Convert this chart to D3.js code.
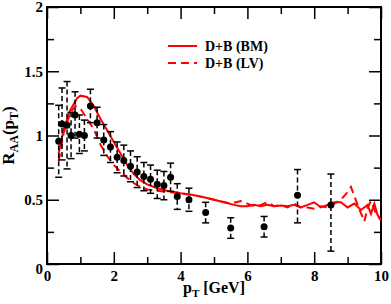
<!DOCTYPE html>
<html>
<head>
<meta charset="utf-8">
<script src="https://cdn.jsdelivr.net/npm/d3@7"></script>
<style>
  body { margin: 0; background: #fff; }
  text { font-family: "Liberation Serif", "Times New Roman", serif; font-weight: bold; }
</style>
</head>
<body>
<div id="wrapper"></div>
<script>
// data points (pT, RAA, error up, error down)
const dataPt   = [0.35, 0.45, 0.6, 0.72, 0.84, 0.97, 1.12, 1.3, 1.5, 1.7, 1.9, 2.1, 2.3, 2.5, 2.7, 2.9, 3.1, 3.3, 3.5, 3.7, 3.9, 4.25, 4.75, 5.5, 6.5, 7.5, 8.5];
const dataRaa  = [0.955, 1.09, 1.08, 1.0, 1.16, 1.01, 1.0, 1.23, 1.1, 0.965, 0.91, 0.83, 0.805, 0.76, 0.715, 0.68, 0.66, 0.62, 0.61, 0.675, 0.525, 0.5, 0.4, 0.28, 0.29, 0.535, 0.46];
const dataErrUp = [0.28, 0.28, 0.34, 0.18, 0.18, 0.15, 0.12, 0.13, 0.12, 0.12, 0.12, 0.12, 0.12, 0.12, 0.12, 0.11, 0.11, 0.11, 0.11, 0.11, 0.1, 0.09, 0.08, 0.08, 0.08, 0.2, 0.24];
const dataErrDn = [0.28, 0.28, 0.34, 0.18, 0.18, 0.15, 0.12, 0.13, 0.12, 0.12, 0.12, 0.12, 0.12, 0.12, 0.12, 0.11, 0.11, 0.11, 0.11, 0.11, 0.1, 0.09, 0.08, 0.08, 0.08, 0.215, 0.36];

// D+B (BM) curve
const bmPt  = [0.35, 0.5, 0.7, 0.9, 1.0, 1.2, 1.4, 1.6, 1.8, 2.0, 2.2, 2.4, 2.6, 2.8, 3.0, 3.3, 3.6, 4.0, 4.3, 4.7, 5.0, 5.3, 5.6, 5.8, 6.0, 6.2, 6.4, 6.6, 6.8, 7.0, 7.2, 7.4, 7.6, 7.8, 8.0, 8.2, 8.4, 8.6, 8.8, 9.0, 9.2, 9.4, 9.6, 9.7, 9.8, 9.9, 10.0];
const bmRaa = [0.86, 1.05, 1.2, 1.29, 1.31, 1.3, 1.23, 1.13, 1.04, 0.95, 0.86, 0.77, 0.7, 0.65, 0.62, 0.59, 0.57, 0.55, 0.54, 0.52, 0.5, 0.48, 0.46, 0.45, 0.45, 0.46, 0.45, 0.46, 0.45, 0.455, 0.45, 0.46, 0.44, 0.46, 0.48, 0.44, 0.46, 0.48, 0.48, 0.44, 0.47, 0.42, 0.46, 0.39, 0.47, 0.38, 0.35];

// D+B (LV) curve
const lvPt  = [0.35, 0.5, 0.7, 0.85, 1.0, 1.2, 1.4, 1.6, 1.8, 2.0, 2.2, 2.4, 2.6, 2.8, 3.0, 3.3, 3.6, 4.0, 4.5, 5.0, 5.5, 5.8, 6.0, 6.2, 6.4, 6.6, 6.8, 7.0, 7.2, 7.4, 7.6, 7.8, 8.0, 8.2, 8.4, 8.6, 8.8, 9.0, 9.1, 9.3, 9.5, 9.6, 9.7, 9.85, 10.0];
const lvRaa = [0.8, 1.02, 1.18, 1.23, 1.21, 1.13, 1.05, 0.93, 0.84, 0.77, 0.72, 0.67, 0.63, 0.6, 0.58, 0.57, 0.56, 0.55, 0.53, 0.5, 0.47, 0.49, 0.47, 0.45, 0.46, 0.48, 0.45, 0.46, 0.44, 0.47, 0.44, 0.44, 0.43, 0.45, 0.44, 0.47, 0.5, 0.56, 0.6, 0.46, 0.33, 0.44, 0.49, 0.39, 0.34];

const legendLabels = ["D+B (BM)", "D+B (LV)"];
const xMajor = [0, 2, 4, 6, 8, 10];
const xMinor = [1, 3, 5, 7, 9];
const yMajor = [0, 0.5, 1, 1.5, 2];
const yMinor = [0.25, 0.75, 1.25, 1.75];

const dimension = {
    width: 391,
    height: 304,
    margin: { top: 7, left: 47, bottom: 40, right: 10 }
};
dimension.boundedWidth = dimension.width - dimension.margin.left - dimension.margin.right;
dimension.boundedHeight = dimension.height - dimension.margin.top - dimension.margin.bottom;

const svg = d3.select("#wrapper").append("svg")
    .attr("width", dimension.width)
    .attr("height", dimension.height);
const bounded = svg.append("g")
    .attr("transform", `translate(${dimension.margin.left},${dimension.margin.top})`);

const xScaler = d3.scaleLinear().domain([0, 10]).range([0, dimension.boundedWidth]);
const yScaler = d3.scaleLinear().domain([0, 2]).range([dimension.boundedHeight, 0]);

// clip for curves
bounded.append("clipPath").attr("id", "clip")
    .append("rect").attr("width", dimension.boundedWidth).attr("height", dimension.boundedHeight);

// axes, ticks pointing inward on all four sides
function styleAxis(g) {
    g.select(".domain").remove();
    g.selectAll(".tick line").attr("stroke", "#000").attr("stroke-width", 1.5);
    g.selectAll(".tick text").attr("fill", "#000").style("font-size", "15px");
}
bounded.append("g").attr("transform", `translate(0,${dimension.boundedHeight})`)
    .call(d3.axisBottom(xScaler).tickValues(xMajor).tickSize(-12).tickPadding(6).tickFormat(d3.format("d")))
    .call(styleAxis);
bounded.append("g").attr("transform", `translate(0,${dimension.boundedHeight})`)
    .call(d3.axisBottom(xScaler).tickValues(xMinor).tickSize(-7).tickFormat(""))
    .call(styleAxis);
bounded.append("g")
    .call(d3.axisTop(xScaler).tickValues(xMajor).tickSize(-12).tickFormat(""))
    .call(styleAxis);
bounded.append("g")
    .call(d3.axisTop(xScaler).tickValues(xMinor).tickSize(-7).tickFormat(""))
    .call(styleAxis);
const yAxisG = bounded.append("g")
    .call(d3.axisLeft(yScaler).tickValues(yMajor).tickSize(-12).tickPadding(4).tickFormat(d => d3.format("")(d)))
    .call(styleAxis);
yAxisG.selectAll(".tick text").filter(d => d === 0).attr("dy", "0.62em");
bounded.append("g")
    .call(d3.axisLeft(yScaler).tickValues(yMinor).tickSize(-7).tickFormat(""))
    .call(styleAxis);
bounded.append("g").attr("transform", `translate(${dimension.boundedWidth},0)`)
    .call(d3.axisRight(yScaler).tickValues(yMajor).tickSize(-12).tickFormat(""))
    .call(styleAxis);
bounded.append("g").attr("transform", `translate(${dimension.boundedWidth},0)`)
    .call(d3.axisRight(yScaler).tickValues(yMinor).tickSize(-7).tickFormat(""))
    .call(styleAxis);

// frame
bounded.append("rect")
    .attr("width", dimension.boundedWidth)
    .attr("height", dimension.boundedHeight)
    .attr("fill", "none")
    .attr("stroke", "#000")
    .attr("stroke-width", 2);

// curves
const lineGenerator = d3.line()
    .x(d => xScaler(d[0]))
    .y(d => yScaler(d[1]));

bounded.append("path")
    .attr("clip-path", "url(#clip)")
    .attr("d", lineGenerator(d3.zip(bmPt, bmRaa)))
    .attr("fill", "none")
    .attr("stroke", "#ff0000")
    .attr("stroke-width", 2);

bounded.append("path")
    .attr("clip-path", "url(#clip)")
    .attr("d", lineGenerator(d3.zip(lvPt, lvRaa)))
    .attr("fill", "none")
    .attr("stroke", "#ff0000")
    .attr("stroke-width", 2)
    .attr("stroke-dasharray", "8,5");

// data points with error bars
const points = dataPt.map((p, i) => ({ pt: p, r: dataRaa[i], up: dataErrUp[i], dn: dataErrDn[i] }));
const bars = bounded.append("g").selectAll("g").data(points).join("g");
bars.append("line")
    .attr("x1", d => xScaler(d.pt)).attr("x2", d => xScaler(d.pt))
    .attr("y1", d => yScaler(d.r + d.up)).attr("y2", d => yScaler(d.r - d.dn))
    .attr("stroke", "#000").attr("stroke-width", 1.5)
    .attr("stroke-dasharray", "5,3");
bars.append("line")
    .attr("x1", d => xScaler(d.pt) - 3.5).attr("x2", d => xScaler(d.pt) + 3.5)
    .attr("y1", d => yScaler(d.r + d.up)).attr("y2", d => yScaler(d.r + d.up))
    .attr("stroke", "#000").attr("stroke-width", 1.5);
bars.append("line")
    .attr("x1", d => xScaler(d.pt) - 3.5).attr("x2", d => xScaler(d.pt) + 3.5)
    .attr("y1", d => yScaler(d.r - d.dn)).attr("y2", d => yScaler(d.r - d.dn))
    .attr("stroke", "#000").attr("stroke-width", 1.5);
bars.append("circle")
    .attr("cx", d => xScaler(d.pt))
    .attr("cy", d => yScaler(d.r))
    .attr("r", 3.5)
    .attr("fill", "#000");

// legend
const legend = bounded.append("g").attr("transform", "translate(121,39)");
legendLabels.forEach((label, i) => {
    const row = legend.append("g").attr("transform", `translate(0,${i * 17})`);
    row.append("line")
        .attr("x1", 0).attr("x2", 29).attr("y1", 0).attr("y2", 0)
        .attr("stroke", "#ff0000").attr("stroke-width", 2)
        .attr("stroke-dasharray", i === 0 ? null : "8,5");
    row.append("text")
        .attr("x", 37).attr("y", 5)
        .style("font-size", "14px")
        .text(label);
});

// axis titles
const xTitle = svg.append("text")
    .attr("x", dimension.margin.left + dimension.boundedWidth / 2)
    .attr("y", 293)
    .attr("text-anchor", "middle")
    .style("font-size", "16px");
xTitle.append("tspan").text("p");
xTitle.append("tspan").attr("dy", 4).style("font-size", "11px").text("T");
xTitle.append("tspan").attr("dy", -4).text(" [GeV]");

const yTitle = svg.append("text")
    .attr("transform", `translate(14,${dimension.margin.top + dimension.boundedHeight / 2}) rotate(-90)`)
    .attr("text-anchor", "middle")
    .style("font-size", "17px");
yTitle.append("tspan").text("R");
yTitle.append("tspan").attr("dy", 4).style("font-size", "12px").text("AA");
yTitle.append("tspan").attr("dy", -4).text("(p");
yTitle.append("tspan").attr("dy", 4).style("font-size", "12px").text("T");
yTitle.append("tspan").attr("dy", -4).text(")");
</script>
</body>
</html>
